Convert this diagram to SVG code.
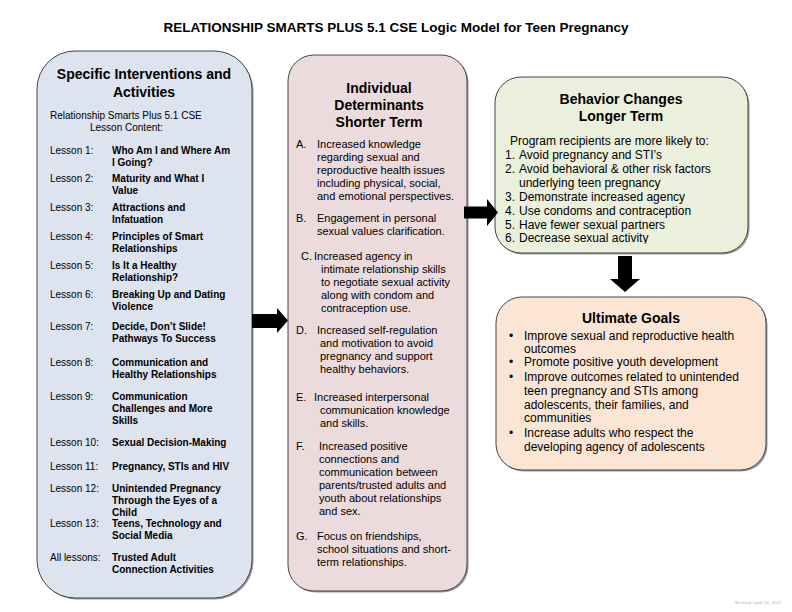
<svg xmlns="http://www.w3.org/2000/svg" width="792" height="612" viewBox="0 0 792 612">
<style>
text{font-family:"Liberation Sans",Arial,sans-serif;fill:#000}
.t{font-size:13.5px;font-weight:bold}
.h{font-size:14px;font-weight:bold;text-anchor:middle}
.s{font-size:10px}
.b{font-size:10px;font-weight:bold}
.m{font-size:11px}
.r{font-size:12px}
.box{stroke:#444;stroke-width:1}
.sh{fill:#9a9a9a}
.arr{fill:#000}
</style>
<defs>
<clipPath id="clipBeh"><rect x="495" y="77" width="253" height="166.5"/></clipPath>
</defs>
<rect width="792" height="612" fill="#fff"/>
<text id="title" class="t" x="396" y="32" text-anchor="middle">RELATIONSHIP SMARTS PLUS 5.1 CSE Logic Model for Teen Pregnancy</text>

<g id="node-interventions">
<rect class="sh" x="38.5" y="52.5" width="215" height="547" rx="38"/>
<rect class="box" x="37" y="51" width="215" height="547" rx="38" fill="#dde3ef"/>
<text class="h" x="144" y="79">Specific Interventions and</text>
<text class="h" x="144" y="97">Activities</text>
<text class="s" x="50" y="119">Relationship Smarts Plus 5.1 CSE</text>
<text class="s" x="90" y="131">Lesson Content:</text>
<text class="s" x="50" y="154">Lesson 1:</text>
<text class="b" x="112" y="154">Who Am I and Where Am</text>
<text class="b" x="112" y="166">I Going?</text>
<text class="s" x="50" y="182">Lesson 2:</text>
<text class="b" x="112" y="182">Maturity and What I</text>
<text class="b" x="112" y="194">Value</text>
<text class="s" x="50" y="211">Lesson 3:</text>
<text class="b" x="112" y="211">Attractions and</text>
<text class="b" x="112" y="223">Infatuation</text>
<text class="s" x="50" y="240">Lesson 4:</text>
<text class="b" x="112" y="240">Principles of Smart</text>
<text class="b" x="112" y="252">Relationships</text>
<text class="s" x="50" y="269">Lesson 5:</text>
<text class="b" x="112" y="269">Is It a Healthy</text>
<text class="b" x="112" y="281">Relationship?</text>
<text class="s" x="50" y="298">Lesson 6:</text>
<text class="b" x="112" y="298">Breaking Up and Dating</text>
<text class="b" x="112" y="310">Violence</text>
<text class="s" x="50" y="330">Lesson 7:</text>
<text class="b" x="112" y="330">Decide, Don’t Slide!</text>
<text class="b" x="112" y="342">Pathways To Success</text>
<text class="s" x="50" y="366">Lesson 8:</text>
<text class="b" x="112" y="366">Communication and</text>
<text class="b" x="112" y="378">Healthy Relationships</text>
<text class="s" x="50" y="400">Lesson 9:</text>
<text class="b" x="112" y="400">Communication</text>
<text class="b" x="112" y="412">Challenges and More</text>
<text class="b" x="112" y="424">Skills</text>
<text class="s" x="50" y="446">Lesson 10:</text>
<text class="b" x="112" y="446">Sexual Decision-Making</text>
<text class="s" x="50" y="470">Lesson 11:</text>
<text class="b" x="112" y="470">Pregnancy, STIs and HIV</text>
<text class="s" x="50" y="492">Lesson 12:</text>
<text class="b" x="112" y="492">Unintended Pregnancy</text>
<text class="b" x="112" y="504">Through the Eyes of a</text>
<text class="b" x="112" y="516">Child</text>
<text class="s" x="50" y="527">Lesson 13:</text>
<text class="b" x="112" y="527">Teens, Technology and</text>
<text class="b" x="112" y="539">Social Media</text>
<text class="s" x="50" y="561">All lessons:</text>
<text class="b" x="112" y="561">Trusted Adult</text>
<text class="b" x="112" y="573">Connection Activities</text>
</g>

<g id="node-determinants">
<rect class="sh" x="289.5" y="56.5" width="179" height="536" rx="26"/>
<rect class="box" x="288" y="55" width="179" height="536" rx="26" fill="#ecdbdc"/>
<text class="h" x="379" y="93">Individual</text>
<text class="h" x="379" y="110">Determinants</text>
<text class="h" x="379" y="127">Shorter Term</text>
<text class="m" x="296" y="148">A.</text>
<text class="m" x="317" y="148">Increased knowledge</text>
<text class="m" x="317" y="161">regarding sexual and</text>
<text class="m" x="317" y="174">reproductive health issues</text>
<text class="m" x="317" y="187">including physical, social,</text>
<text class="m" x="317" y="200">and emotional perspectives.</text>
<text class="m" x="296" y="222">B.</text>
<text class="m" x="317" y="222">Engagement in personal</text>
<text class="m" x="317" y="235">sexual values clarification.</text>
<text class="m" x="301" y="260">C.</text>
<text class="m" x="314" y="260">Increased agency in</text>
<text class="m" x="321" y="273">intimate relationship skills</text>
<text class="m" x="321" y="286">to negotiate sexual activity</text>
<text class="m" x="321" y="299">along with condom and</text>
<text class="m" x="321" y="312">contraception use.</text>
<text class="m" x="296" y="334">D.</text>
<text class="m" x="317" y="334">Increased self-regulation</text>
<text class="m" x="320" y="347">and motivation to avoid</text>
<text class="m" x="320" y="360">pregnancy and support</text>
<text class="m" x="320" y="373">healthy behaviors.</text>
<text class="m" x="296" y="401">E.</text>
<text class="m" x="314" y="401">Increased interpersonal</text>
<text class="m" x="320" y="414">communication knowledge</text>
<text class="m" x="320" y="427">and skills.</text>
<text class="m" x="296" y="450">F.</text>
<text class="m" x="319" y="450">Increased positive</text>
<text class="m" x="319" y="463">connections and</text>
<text class="m" x="319" y="476">communication between</text>
<text class="m" x="319" y="489">parents/trusted adults and</text>
<text class="m" x="319" y="502">youth about relationships</text>
<text class="m" x="319" y="515">and sex.</text>
<text class="m" x="296" y="540">G.</text>
<text class="m" x="317" y="540">Focus on friendships,</text>
<text class="m" x="317" y="553">school situations and short-</text>
<text class="m" x="317" y="566">term relationships.</text>
</g>

<g id="node-behavior">
<rect class="sh" x="496.5" y="78.5" width="253" height="176" rx="26"/>
<rect class="box" x="495" y="77" width="253" height="176" rx="26" fill="#ebf0dd"/>
<text class="h" x="621" y="104">Behavior Changes</text>
<text class="h" x="621" y="121">Longer Term</text>
<g clip-path="url(#clipBeh)">
<text class="r" x="510" y="145">Program recipients are more likely to:</text>
<text class="r" x="505" y="159">1.</text><text class="r" x="519" y="159">Avoid pregnancy and STI’s</text>
<text class="r" x="505" y="173">2.</text><text class="r" x="519" y="173">Avoid behavioral &amp; other risk factors</text>
<text class="r" x="519" y="187">underlying teen pregnancy</text>
<text class="r" x="505" y="201">3.</text><text class="r" x="519" y="201">Demonstrate increased agency</text>
<text class="r" x="505" y="215">4.</text><text class="r" x="519" y="215">Use condoms and contraception</text>
<text class="r" x="505" y="228.5">5.</text><text class="r" x="519" y="228.5">Have fewer sexual partners</text>
<text class="r" x="505" y="242">6.</text><text class="r" x="519" y="242">Decrease sexual activity</text>
</g>
</g>

<g id="node-goals">
<rect class="sh" x="497.5" y="298.5" width="270" height="173" rx="26"/>
<rect class="box" x="496" y="297" width="270" height="173" rx="26" fill="#fbe6d6"/>
<text class="h" x="631" y="323">Ultimate Goals</text>
<text class="r" x="509" y="340">•</text><text class="r" x="524" y="340">Improve sexual and reproductive health</text>
<text class="r" x="524" y="353">outcomes</text>
<text class="r" x="509" y="366">•</text><text class="r" x="524" y="366">Promote positive youth development</text>
<text class="r" x="509" y="381">•</text><text class="r" x="524" y="381">Improve outcomes related to unintended</text>
<text class="r" x="524" y="395">teen pregnancy and STIs among</text>
<text class="r" x="524" y="409">adolescents, their families, and</text>
<text class="r" x="524" y="422">communities</text>
<text class="r" x="509" y="437">•</text><text class="r" x="524" y="437">Increase adults who respect the</text>
<text class="r" x="524" y="451">developing agency of adolescents</text>
</g>

<g id="connectors">
<polygon class="arr" points="252,314 277,314 277,308 288,320.5 277,333 277,328 252,328"/>
<polygon class="arr" points="464,206.5 487,206.5 487,199 498,212.5 487,226 487,218.5 464,218.5"/>
<polygon class="arr" points="618,256 632,256 632,279 640,279 625,292 610,279 618,279"/>
</g>

<text id="revised" x="735" y="604" style="font-family:'Liberation Serif','Times New Roman',serif;font-size:5px;fill:#aaa">Revised April 22, 2025</text>
</svg>
